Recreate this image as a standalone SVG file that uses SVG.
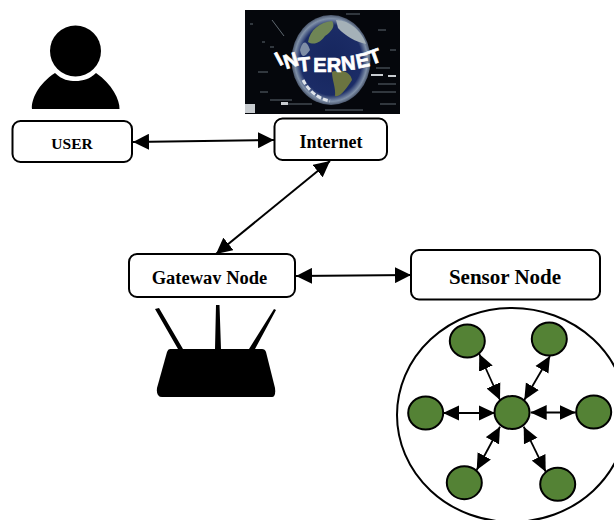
<svg xmlns="http://www.w3.org/2000/svg" width="614" height="520" viewBox="0 0 614 520">
<style>
.box{fill:#fff;stroke:#000;stroke-width:2}
.lbl{font-family:"Liberation Serif",serif;font-weight:bold;text-anchor:middle;fill:#000}
.c{stroke:#000;stroke-width:2;fill:none;marker-start:url(#a);marker-end:url(#a)}
.s{stroke:#000;stroke-width:1.8;fill:none;marker-start:url(#b);marker-end:url(#b)}
.n{fill:#548235;stroke:#000;stroke-width:2}
.net{font-family:"Liberation Sans",sans-serif;font-weight:bold;font-size:20px;fill:#fff;stroke:#fff;stroke-width:.7;text-anchor:middle}
</style>
<defs>
<marker id="a" markerUnits="userSpaceOnUse" markerWidth="16" markerHeight="16" refX="16" refY="8" orient="auto-start-reverse" viewBox="0 0 16 16"><path d="M0 0L16 8L0 16Z" fill="#000"/></marker>
<marker id="b" markerUnits="userSpaceOnUse" markerWidth="16" markerHeight="16" refX="16" refY="8" orient="auto-start-reverse" viewBox="0 0 16 16"><path d="M0 0.500L16 8L0 15.500Z" fill="#000"/></marker>
<radialGradient id="g" cx="0.5" cy="0.5" r="0.5"><stop offset="0" stop-color="#16265e"/><stop offset="0.78" stop-color="#1b2c66"/><stop offset="0.92" stop-color="#7f90a8"/><stop offset="1" stop-color="#4a566c"/></radialGradient>
<clipPath id="gw"><rect x="129" y="255" width="165" height="29"/></clipPath>
</defs>
<g id="user-icon">
<circle cx="75.500" cy="51" r="25.500" fill="#000"/>
<path d="M32 109C31 100 38 84 55 73C62 80 69 81 75.500 81C83 81 90 79 96 73C112 84 120 100 119.500 109Z" fill="#000"/>
</g>
<g id="internet-picture">
<rect x="245" y="10" width="155" height="104" fill="#05070c"/>
<g stroke="#5f6870" stroke-width="1" fill="none">
<path d="M262 42h3M270 47h4M258 72h10M270 100h22M282 104h30M376 68h14M378 84h18M372 92h24M380 104h16M250 24h3M378 30h8M390 50h6M260 92h8M325 110h38M346 14h14M272 20l12 16"/>
</g>
<path d="M245 104h10v9h-10ZM281 102h7v3h-7ZM371 74h12v2h-12ZM388 75h8v2h-8Z" fill="#c8ccd0"/>
<g id="globe">
<ellipse cx="331" cy="60" rx="39.500" ry="45" fill="url(#g)"/>
<path d="M308 42C310 30 320 22 332 21C336 26 331 32 325 36C321 42 314 46 308 42Z" fill="#6f8555"/>
<path d="M336 20C350 20 362 32 366 44C356 42 345 36 338 28Z" fill="#a5b1b8"/>
<path d="M300 50C302 42 306 38 310 50C306 56 302 60 300 50Z" fill="#7f8ea6"/>
<path d="M332 72C340 68 351 72 352 80C347 88 340 98 335 96C336 88 332 80 332 72Z" fill="#6b7440"/>
<path d="M303 80C308 90 318 99 330 101" fill="none" stroke="#dfe4ea" stroke-width="3" stroke-dasharray="5 2"/>
</g>
<text class="net" x="282" y="65" transform="rotate(-28 282 65)">I</text>
<text class="net" x="293" y="67" transform="rotate(-18 293 67)">N</text>
<text class="net" x="305" y="71" transform="rotate(-6 305 71)">T</text>
<text class="net" x="320" y="72">E</text>
<text class="net" x="334" y="72">R</text>
<text class="net" x="349" y="70" transform="rotate(-6 349 70)">N</text>
<text class="net" x="364" y="67" transform="rotate(-12 364 67)">E</text>
<text class="net" x="377" y="63" transform="rotate(-20 377 63)">T</text>
</g>
<g id="connectors">
<path class="c" d="M133 142L274 140"/>
<path class="c" d="M330 161L216 254"/>
<path class="c" d="M296 276L411 275"/>
<path class="s" d="M479.300 354L500 400"/>
<path class="s" d="M550 356L524.300 400"/>
<path class="s" d="M443 413L495 413"/>
<path class="s" d="M530.700 412.500L575.700 412.500"/>
<path class="s" d="M476.700 470L500 426.700"/>
<path class="s" d="M545.700 471.700L523.700 426.700"/>
</g>
<g id="user"><rect class="box" x="12.500" y="121" width="119.500" height="41" rx="8"/><text class="lbl" x="72" y="149" font-size="15.500">USER</text></g>
<g id="internet"><rect class="box" x="274.500" y="118.500" width="112.500" height="41.500" rx="8"/><text class="lbl" x="331" y="148" font-size="18">Internet</text></g>
<g id="gateway"><rect class="box" x="129" y="254" width="166" height="43" rx="8"/><text class="lbl" x="209.500" y="284" font-size="18.500" clip-path="url(#gw)">Gateway Node</text></g>
<g id="sensor"><rect class="box" x="411" y="250" width="189" height="49.500" rx="8"/><text class="lbl" x="505" y="284" font-size="21">Sensor Node</text></g>
<g id="router">
<path d="M155 309L159 308L183 349H178Z M216 305H219.500L221 349H215Z M274 309L276 310L255 349H249Z" fill="#000"/>
<path d="M170 349Q168 349 167 352L157 388Q156 397 162 397H272Q276 397 275 388L266 352Q265 349 262 349Z" fill="#000"/>
</g>
<g id="sensor-field">
<ellipse cx="512" cy="415" rx="115" ry="107" fill="none" stroke="#000" stroke-width="2"/>
</g>
<g id="n1"><ellipse class="n" cx="467.300" cy="341" rx="17.500" ry="16.500"/></g>
<g id="n2"><ellipse class="n" cx="549.300" cy="339" rx="17.500" ry="16.500"/></g>
<g id="n3"><ellipse class="n" cx="425.700" cy="413" rx="17.500" ry="16.500"/></g>
<g id="n4"><ellipse class="n" cx="593.700" cy="412" rx="17.500" ry="16.500"/></g>
<g id="n5"><ellipse class="n" cx="464.300" cy="482.700" rx="17.500" ry="16.500"/></g>
<g id="n6"><ellipse class="n" cx="557.700" cy="484.300" rx="17.500" ry="16.500"/></g>
<g id="hub"><ellipse class="n" cx="512" cy="412.500" rx="17.500" ry="16.500"/></g>
</svg>
